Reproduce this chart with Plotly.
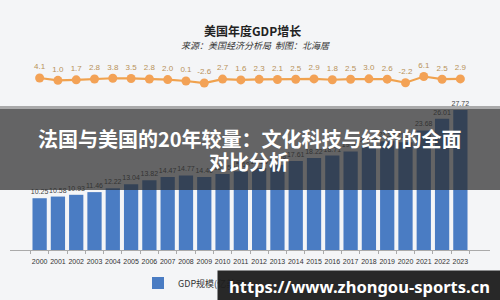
import plotly.graph_objects as go

years = [str(y) for y in range(2000, 2024)]
gdp = [10.25, 10.58, 10.93, 11.46, 12.22, 13.04, 13.82, 14.47, 14.77, 14.46,
       15.05, 15.60, 16.25, 16.88, 17.61, 18.22, 18.71, 19.52, 20.58, 21.54,
       21.35, 23.68, 26.01, 27.72]
growth = [4.1, 1.0, 1.7, 2.8, 3.8, 3.5, 2.8, 2.0, 0.1, -2.6, 2.7, 1.6,
          2.3, 2.1, 2.5, 2.9, 1.8, 2.5, 3.0, 2.6, -2.2, 6.1, 2.5, 2.9]

title = "美国年度GDP增长"
subtitle = "来源：美国经济分析局  制图：北海居"
overlay_l1 = "法国与美国的20年较量：文化科技与经济的全面"
overlay_l2 = "对比分析"
watermark = "https://www.zhongou-sports.cn"
legend_name = "GDP规模(亿美元)"

CJK = "Noto Sans CJK SC"
NUM = "Liberation Sans Narrow, Liberation Sans, Arial"

W, H = 500, 300
ML, MR, MT, MB = 10, 10, 0, 50
PW, PH = W - ML - MR, H - MT - MB


def px(x):
    return (x - ML) / PW


def py(y):
    return (H - MB - y) / PH


fig = go.Figure()
fig.add_trace(go.Bar(
    x=years, y=gdp, name=legend_name,
    marker=dict(color="#4a7cc3", line=dict(width=0)),
    text=[f"{v:.2f}" for v in gdp], textposition="outside",
    constraintext="none",
    textfont=dict(size=7, color="#444", family=NUM),
    cliponaxis=False, showlegend=True,
))
fig.add_trace(go.Scatter(
    x=years, y=growth, yaxis="y2", mode="lines+markers+text",
    line=dict(color="#f0a24e", width=2.2),
    marker=dict(color="#f3a256", size=9),
    text=[f"{v:.1f}" for v in growth], textposition="top center",
    textfont=dict(size=8, color="#b8925a", family=NUM),
    cliponaxis=False, showlegend=False,
))

shapes = [
    dict(type="rect", xref="paper", yref="paper", x0=px(0), x1=px(W),
         y0=py(109), y1=py(106), fillcolor="rgba(150,150,150,0.8)",
         line=dict(width=0), layer="above"),
    dict(type="rect", xref="paper", yref="paper", x0=px(0), x1=px(W),
         y0=py(190), y1=py(109), fillcolor="rgba(45,45,45,0.72)",
         line=dict(width=0), layer="above"),
]

annotations = [
    dict(text=f"<b>{title}</b>", xref="paper", yref="paper", x=px(252), y=py(20),
         showarrow=False, font=dict(size=12, color="#222", family=CJK)),
    dict(text=f"<i>{subtitle}</i>", xref="paper", yref="paper", x=px(256), y=py(37),
         showarrow=False, font=dict(size=9, color="#333", family=CJK)),
    dict(text=f"<b>{overlay_l1}</b>", xref="paper", yref="paper", x=px(250), y=py(138),
         showarrow=False, font=dict(size=20, color="white", family=CJK)),
    dict(text=f"<b>{overlay_l2}</b>", xref="paper", yref="paper", x=px(249), y=py(161),
         showarrow=False, font=dict(size=20, color="white", family=CJK)),
    dict(text=f"<b>{watermark}</b>", xref="paper", yref="paper", x=px(217), y=py(270),
         xanchor="left", yanchor="top", width=283, height=30, borderpad=0,
         bgcolor="rgba(28,28,28,0.95)", showarrow=False, align="center",
         font=dict(size=16.5, color="white", family="Noto Sans, DejaVu Sans")),
]

fig.update_layout(
    width=W, height=H,
    margin=dict(l=ML, r=MR, t=MT, b=MB),
    paper_bgcolor="#f4f5f7", plot_bgcolor="#f4f5f7",
    bargap=0.22,
    xaxis=dict(type="category", showgrid=False, showline=True, linecolor="#aaa",
               ticks="outside", ticklen=3, tickcolor="#aaa", tickson="boundaries",
               tickangle=0, ticklabelstandoff=5,
               tickfont=dict(size=7, color="#333", family=NUM)),
    yaxis=dict(range=[0, 27.72 * PH / 140], visible=False),
    yaxis2=dict(range=[-225.2, 108.1], overlaying="y", visible=False),
    legend=dict(orientation="h", x=px(138), y=py(283), xanchor="left", yanchor="middle",
                font=dict(size=9, color="#333", family=CJK), bgcolor="rgba(0,0,0,0)"),
    shapes=shapes, annotations=annotations,
)

fig.write_html("out.html")
